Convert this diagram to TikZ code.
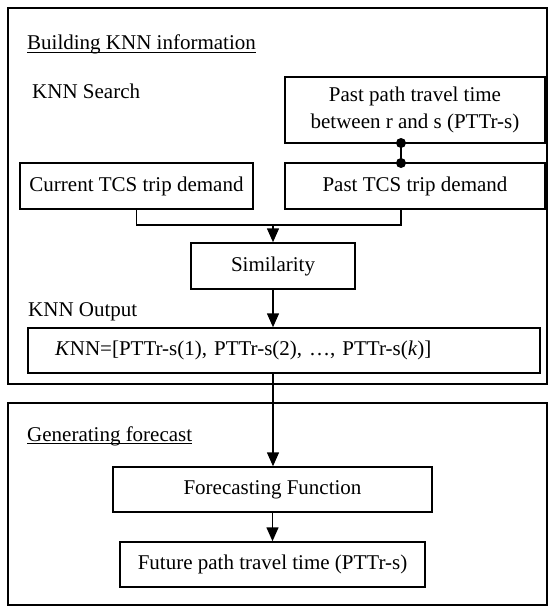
\documentclass[tikz,border=0pt]{standalone}
\usepackage{fontspec}
\setmainfont{Liberation Serif}
\usetikzlibrary{arrows.meta}

\begin{document}
\begin{tikzpicture}[x=1pt,y=-1pt, >={Triangle[length=14pt,width=12pt]},
  font=\fontsize{21}{27}\selectfont,
  box/.style={draw,line width=1.5pt,inner sep=0pt,align=center},
  frame/.style={draw,line width=2.2pt,inner sep=0pt},
  lbl/.style={anchor=base west,inner sep=0pt}]
\useasboundingbox (0,0) rectangle (549,607);
% the two stages
\node (build) at (277.5,196) [frame, minimum width=539, minimum height=376] {};
\node (gen) at (277.5,504) [frame, minimum width=539, minimum height=202] {};
\node (buildlbl) at (27,50) [lbl] {Building KNN information};
\node (genlbl) at (27,441) [lbl] {Generating forecast};
\draw[line width=1.2pt] ([yshift=-2.5]buildlbl.base west) -- ([yshift=-2.5]buildlbl.base east);
\draw[line width=1.2pt] ([yshift=-2.5]genlbl.base west) -- ([yshift=-2.5]genlbl.base east);
\node (search) at (32,99) [lbl] {KNN Search};
\node (output) at (28,316) [lbl] {KNN Output};
% boxes
\node (ptt) at (415,110) [box, minimum width=260, minimum height=66] {Past path travel time\\between r and s (PTTr-s)};
\node (past) at (415,186) [box, minimum width=260, minimum height=46] {Past TCS trip demand};
\node (cur) at (136.5,186) [box, minimum width=233, minimum height=46] {Current TCS trip demand};
\node (sim) at (273,266) [box, minimum width=164, minimum height=46] {Similarity};
\node (knn) at (284,350.5) [box, minimum width=512, minimum height=45, text width=458, inner xsep=27, align=left]
  {\textit{K}NN=[PTTr-s(1), PTTr-s(2), …, PTTr-s(\textit{k})]};
\node (fc) at (272.5,489.5) [box, minimum width=319, minimum height=45] {Forecasting Function};
\node (fut) at (272.5,564.5) [box, minimum width=305, minimum height=45] {Future path travel time (PTTr-s)};
% connectors
\coordinate (d1) at (401,143);
\coordinate (d2) at (401,163);
\coordinate (mid) at (273,225);
\draw[line width=1.5pt] (d1) -- (d2);
\fill (d1) circle (5pt);
\fill (d2) circle (5pt);
\draw[line width=1.5pt] (cur.south) |- (mid) -| (401,209);
\draw[->,line width=1.5pt] (mid) -- (sim.north);
\draw[->,line width=1.5pt] (sim.south) -- (sim.south |- knn.north);
\draw[->,line width=1.5pt] (sim.south |- knn.south) -- (sim.south |- fc.north);
\draw[->,line width=1.5pt] (fc.south) -- (fut.north);
\end{tikzpicture}
\end{document}
